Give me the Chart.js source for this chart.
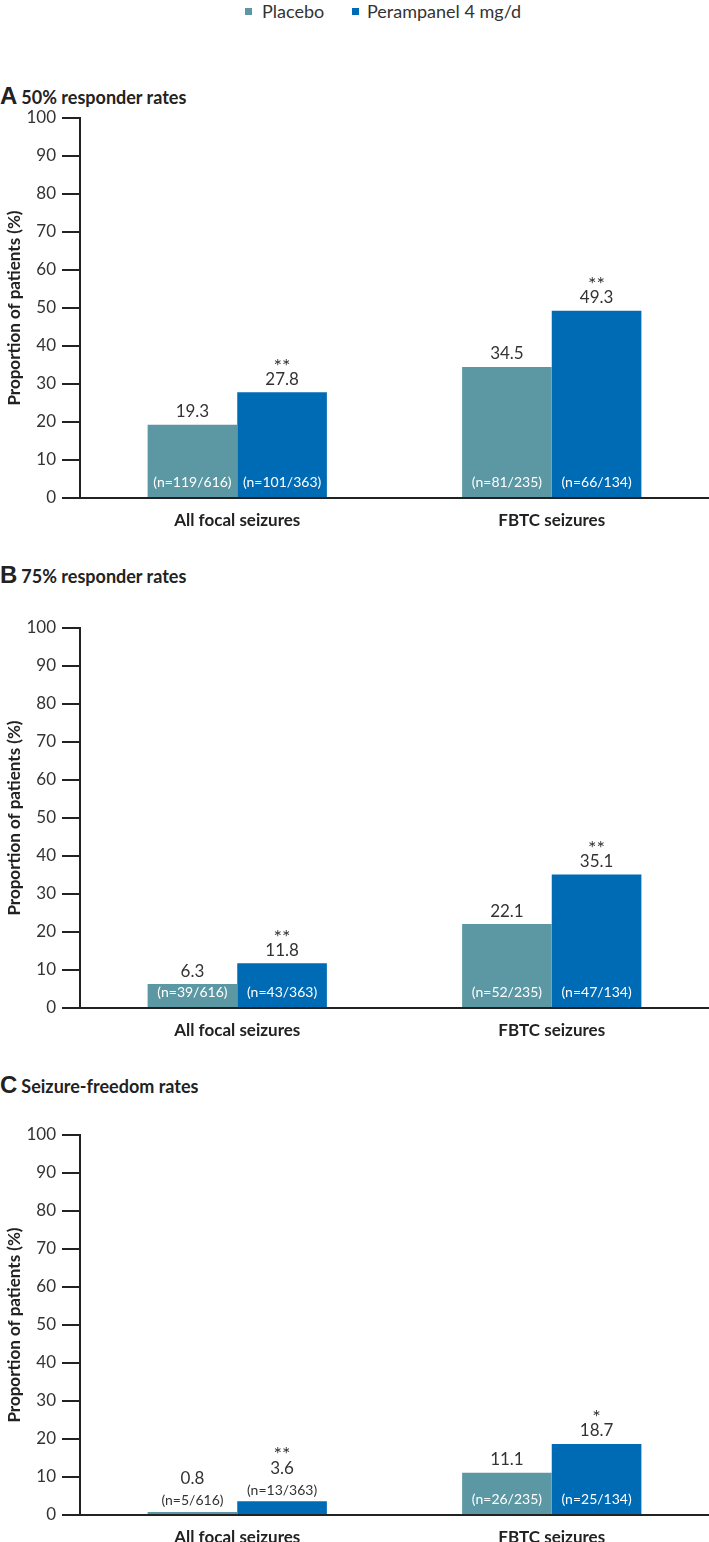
<!DOCTYPE html>
<html>
<head>
<meta charset="utf-8">
<script src="https://cdn.jsdelivr.net/npm/chart.js@4.4.1/dist/chart.umd.min.js"></script>
<style>
    body { margin: 0; background: #fff; width: 709px; height: 1542px; position: relative; overflow: hidden; font-family: Lato, sans-serif; color: #222; }
    .sq { position: absolute; width: 7px; height: 7px; }
    .lg { position: absolute; top: 0; font-size: 18px; line-height: 22px; color: #333; }
    .ptitle { position: absolute; left: 0; font-weight: bold; font-size: 18px; line-height: 24px; white-space: nowrap; }
    .ptitle .letter { font-family: "Liberation Sans", Arial, sans-serif; font-size: 24px; margin-right: 4px; }
    canvas { position: absolute; left: 0; }
</style>
</head>
<body>
<div class="sq" style="left:245px;top:8px;background:#5b98a4"></div>
<div class="lg" style="left:262px">Placebo</div>
<div class="sq" style="left:352px;top:8px;background:#006bb5"></div>
<div class="lg" style="left:367px">Perampanel 4 mg/d</div>

<div class="ptitle" style="top:84px"><span class="letter">A</span>50% responder rates</div>
<div class="ptitle" style="top:563px"><span class="letter">B</span>75% responder rates</div>
<div class="ptitle" style="top:1073px"><span class="letter">C</span>Seizure-freedom rates</div>

<canvas id="chartA" width="709" height="450" style="top:88px"></canvas>
<canvas id="chartB" width="709" height="450" style="top:598px"></canvas>
<canvas id="chartC" width="709" height="450" style="top:1105px"></canvas>

<script>
// Data
const categories = ['All focal seizures', 'FBTC seizures'];
const seriesNames = ['Placebo', 'Perampanel 4 mg/d'];
const yTicks = [0, 10, 20, 30, 40, 50, 60, 70, 80, 90, 100];

const placeboA = [19.3, 34.5];
const perampanelA = [27.8, 49.3];
const placeboNA = ['(n=119/616)', '(n=81/235)'];
const perampanelNA = ['(n=101/363)', '(n=66/134)'];
const starsA = ['**', '**'];

const placeboB = [6.3, 22.1];
const perampanelB = [11.8, 35.1];
const placeboNB = ['(n=39/616)', '(n=52/235)'];
const perampanelNB = ['(n=43/363)', '(n=47/134)'];
const starsB = ['**', '**'];

const placeboC = [0.8, 11.1];
const perampanelC = [3.6, 18.7];
const placeboNC = ['(n=5/616)', '(n=26/235)'];
const perampanelNC = ['(n=13/363)', '(n=25/134)'];
const starsC = ['**', '*'];

const colors = ['#5b98a4', '#006bb5'];

// value, stars and n= labels drawn on top of the bars
const barLabels = {
    id: 'barLabels',
    afterDatasetsDraw(chart) {
        const ctx = chart.ctx;
        ctx.save();
        ctx.textAlign = 'center';
        ctx.textBaseline = 'middle';
        chart.data.datasets.forEach((ds, i) => {
            chart.getDatasetMeta(i).data.forEach((bar, j) => {
                const top = bar.y;
                const inside = bar.base - top > 18;
                let valY = top - 13, starY = top - 31;
                ctx.font = '14px Lato';
                if (inside) {
                    ctx.fillStyle = '#ffffff';
                    ctx.fillText(ds.nLabels[j], bar.x, bar.base - 15);
                } else {
                    ctx.fillStyle = '#333';
                    ctx.fillText(ds.nLabels[j], bar.x, top - 11);
                    valY = top - 33;
                    starY = top - 52;
                }
                ctx.fillStyle = '#333';
                ctx.font = '17px Lato';
                ctx.fillText(ds.data[j].toFixed(1), bar.x, valY);
                if (ds.stars && ds.stars[j]) {
                    ctx.font = '20px Lato';
                    ctx.fillText(ds.stars[j], bar.x, starY + 5);
                }
            });
        });
        ctx.restore();
    }
};

function makeChart(id, placebo, perampanel, nPlacebo, nPerampanel, stars) {
    const ctx = document.getElementById(id).getContext('2d');
    return new Chart(ctx, {
        type: 'bar',
        data: {
            labels: categories,
            datasets: [
                {
                    label: seriesNames[0],
                    data: placebo,
                    backgroundColor: colors[0],
                    nLabels: nPlacebo,
                    stars: null
                },
                {
                    label: seriesNames[1],
                    data: perampanel,
                    backgroundColor: colors[1],
                    nLabels: nPerampanel,
                    stars: stars
                }
            ]
        },
        options: {
            responsive: false,
            animation: false,
            layout: { padding: { top: 30, right: 0, left: 0, bottom: 0 } },
            datasets: { bar: { barPercentage: 1, categoryPercentage: 0.57 } },
            plugins: { legend: { display: false }, tooltip: { enabled: false } },
            scales: {
                x: {
                    grid: { display: false },
                    border: { display: true, color: '#222', width: 2 },
                    ticks: { color: '#222', font: { family: 'Lato', size: 17, weight: 'bold' }, padding: 4 },
                    afterFit: (scale) => { scale.height = 40; }
                },
                y: {
                    min: 0,
                    max: 100,
                    afterBuildTicks: (scale) => { scale.ticks = yTicks.map(v => ({ value: v })); },
                    grid: { drawOnChartArea: false, drawTicks: true, tickLength: 18, color: '#222', lineWidth: 2 },
                    border: { display: true, color: '#222', width: 2 },
                    ticks: { color: '#333', font: { family: 'Lato', size: 17 }, padding: 6 },
                    title: {
                        display: true,
                        text: 'Proportion of patients (%)',
                        color: '#222',
                        font: { family: 'Lato', size: 17, weight: 'bold' },
                        padding: { top: 4, bottom: 0 }
                    },
                    afterFit: (scale) => { scale.width = 80; }
                }
            }
        },
        plugins: [barLabels]
    });
}

document.fonts.load('16px Lato').then(() => document.fonts.load('bold 17px Lato')).then(() => {
    makeChart('chartA', placeboA, perampanelA, placeboNA, perampanelNA, starsA);
    makeChart('chartB', placeboB, perampanelB, placeboNB, perampanelNB, starsB);
    makeChart('chartC', placeboC, perampanelC, placeboNC, perampanelNC, starsC);
});
</script>
</body>
</html>
